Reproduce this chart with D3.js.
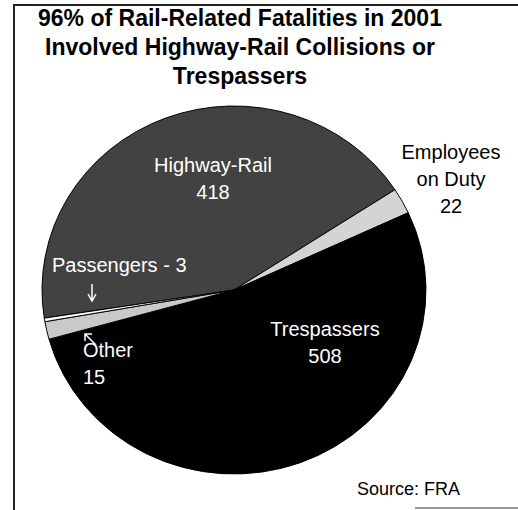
<!DOCTYPE html>
<html>
<head>
<meta charset="utf-8">
<script src="https://cdn.jsdelivr.net/npm/d3@7"></script>
<style>
body { margin: 0; background: #fff; }
text { font-family: "Liberation Sans", Arial, sans-serif; }
</style>
</head>
<body>
<div id="plot"></div>
<script>
var categories = ["Highway-Rail", "Employees on Duty", "Trespassers", "Other", "Passengers"];
var values = [418, 22, 508, 15, 3];
var fills = ["#424242", "#d4d4d4", "#000000", "#c9c9c9", "#ffffff"];
var titleLines = ["96% of Rail-Related Fatalities in 2001", "Involved Highway-Rail Collisions or", "Trespassers"];

var width = 518, height = 510;
var cx = 234, cy = 290, rx = 192, ry = 184;

var svg = d3.select("#plot").append("svg")
	.attr("width", width)
	.attr("height", height);

// frame
svg.append("path")
	.attr("d", "M14,510 L14,5 L518,5")
	.attr("fill", "none")
	.attr("stroke", "#222")
	.attr("stroke-width", 2);
svg.append("line")
	.attr("x1", 415).attr("x2", 518).attr("y1", 508).attr("y2", 508)
	.attr("stroke", "#999").attr("stroke-width", 2);

// title
svg.append("g").selectAll("text")
	.data(titleLines)
	.enter().append("text")
	.attr("x", 240)
	.attr("y", function(d, i) { return 26 + i * 29; })
	.attr("text-anchor", "middle")
	.style("font-size", "23px")
	.style("font-weight", "bold")
	.text(function(d) { return d; });

var pie = d3.pie()
	.sort(null)
	.value(function(d) { return d; })
	.startAngle(-98.8 * Math.PI / 180)
	.endAngle(261.2 * Math.PI / 180);

var arc = d3.arc().innerRadius(0).outerRadius(rx);

var g = svg.append("g")
	.attr("transform", "translate(" + cx + "," + cy + ") scale(1," + (ry / rx) + ")");

g.selectAll("path")
	.data(pie(values))
	.enter().append("path")
	.attr("d", arc)
	.style("fill", function(d, i) { return fills[i]; })
	.style("stroke", "#000")
	.style("stroke-width", 1);

// labels
function label(lines, x, y, color, anchor) {
	svg.append("g").selectAll("text")
		.data(lines)
		.enter().append("text")
		.attr("x", x)
		.attr("y", function(d, i) { return y + i * 27; })
		.attr("text-anchor", anchor || "middle")
		.style("font-size", "20px")
		.style("fill", color)
		.text(function(d) { return d; });
}

label([categories[0], String(values[0])], 213, 172, "#fff");
label(["Employees", "on Duty", String(values[1])], 451, 159, "#000");
label([categories[2], String(values[2])], 325, 336, "#fff");
label([categories[3], String(values[3])], 83, 357, "#fff", "start");
label([categories[4] + " - " + values[4]], 52, 272, "#fff", "start");

// arrows
svg.append("path")
	.attr("d", "M92,284 L92,300 M88,294 L92,301 L96,294")
	.attr("fill", "none").attr("stroke", "#fff").attr("stroke-width", 1.5);
svg.append("path")
	.attr("d", "M96,345 L85,334 M85,341 L85,334 L92,334")
	.attr("fill", "none").attr("stroke", "#fff").attr("stroke-width", 1.5);

svg.append("text")
	.attr("x", 357)
	.attr("y", 495)
	.style("font-size", "18px")
	.text("Source: FRA");
</script>
</body>
</html>
